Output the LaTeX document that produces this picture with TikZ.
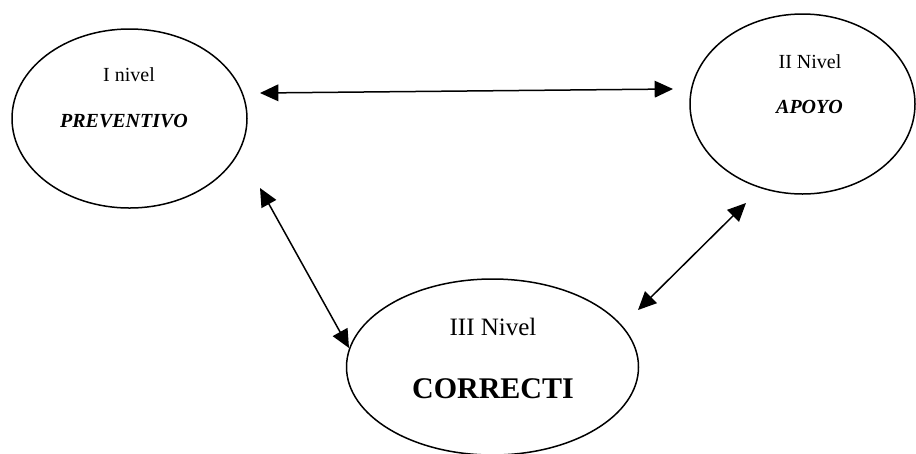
\documentclass[tikz,border=0pt]{standalone}
\usepackage{fontspec}
\setmainfont{Liberation Serif}
\usetikzlibrary{shapes.geometric,arrows.meta}
\begin{document}
\begin{tikzpicture}[x=0.6pt,y=-0.6pt,
  lvl/.style={draw=black,line width=0.9pt,ellipse,inner sep=0pt},
  lbl/.style={anchor=base,inner sep=0pt,font=\fontsize{12}{14}\selectfont},
  conn/.style={line width=0.9pt,{Triangle[length=11pt,width=10pt]}-{Triangle[length=11pt,width=10pt]}}]
\useasboundingbox (0,0) rectangle (916,453);
\node[lvl,minimum width=141pt,minimum height=107.4pt] (n1) at (129.5,118.5) {};
\node[lvl,minimum width=135pt,minimum height=108pt] (n2) at (802.5,104) {};
\node[lvl,minimum width=175.2pt,minimum height=105.6pt] (n3) at (492.5,367) {};
\node[lbl] (t1a) at (129,81) {I nivel};
\node[lbl] (t1b) at (124,127) {\textbf{\textit{PREVENTIVO}}};
\node[lbl] (t2a) at (810,68) {II Nivel};
\node[lbl] (t2b) at (809.5,113) {\textbf{\textit{APOYO}}};
\node[lbl,font=\fontsize{15}{17}\selectfont] (t3a) at (493,335) {III Nivel};
\node[lbl,font=\fontsize{18}{21}\selectfont\bfseries] (t3b) at (493,398) {CORRECTI};
\coordinate (a1s) at (260,93);
\coordinate (a1e) at (673,89);
\coordinate (a2s) at (260,188);
\coordinate (a2e) at (349,348);
\coordinate (a3s) at (746,203);
\coordinate (a3e) at (638,310);
\draw[conn] (a1s) -- (a1e);
\draw[conn] (a2s) -- (a2e);
\draw[conn] (a3s) -- (a3e);
\end{tikzpicture}
\end{document}
